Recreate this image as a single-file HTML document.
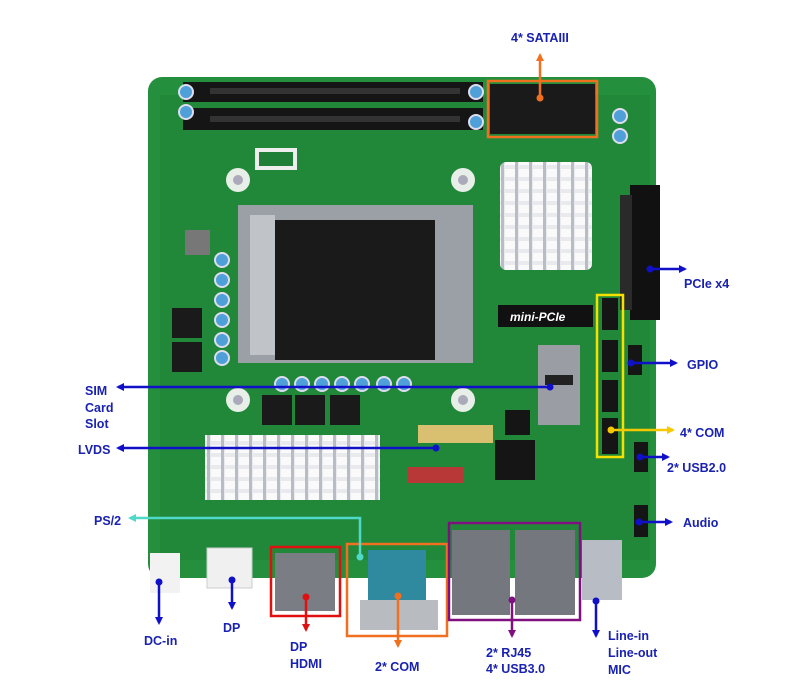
<!DOCTYPE html>
<html><head><meta charset="utf-8"><style>
html,body{margin:0;padding:0;background:#fff;}
svg{display:block}
text{font-family:"Liberation Sans",sans-serif;font-weight:bold;font-size:12.5px;fill:#1a22b0}
</style></head><body>
<svg width="800" height="680" viewBox="0 0 800 680" xmlns="http://www.w3.org/2000/svg">
<defs>
<marker id="ab" markerWidth="8" markerHeight="8" refX="6" refY="4" orient="auto" markerUnits="userSpaceOnUse"><path d="M0,0 L8,4 L0,8 Z" fill="#1010c8"/></marker>
<marker id="ao" markerWidth="8" markerHeight="8" refX="6" refY="4" orient="auto" markerUnits="userSpaceOnUse"><path d="M0,0 L8,4 L0,8 Z" fill="#f07020"/></marker>
<marker id="ay" markerWidth="8" markerHeight="8" refX="6" refY="4" orient="auto" markerUnits="userSpaceOnUse"><path d="M0,0 L8,4 L0,8 Z" fill="#f5c800"/></marker>
<marker id="ac" markerWidth="8" markerHeight="8" refX="6" refY="4" orient="auto" markerUnits="userSpaceOnUse"><path d="M0,0 L8,4 L0,8 Z" fill="#50d8c8"/></marker>
<marker id="ar" markerWidth="8" markerHeight="8" refX="6" refY="4" orient="auto" markerUnits="userSpaceOnUse"><path d="M0,0 L8,4 L0,8 Z" fill="#e01010"/></marker>
<marker id="ap" markerWidth="8" markerHeight="8" refX="6" refY="4" orient="auto" markerUnits="userSpaceOnUse"><path d="M0,0 L8,4 L0,8 Z" fill="#801080"/></marker>
<pattern id="fin" width="14" height="12" patternUnits="userSpaceOnUse"><rect width="14" height="12" fill="#e8eaee"/><rect x="1" y="1" width="10" height="8" fill="#fafafa"/><rect x="11" width="3" height="12" fill="#b8bcc4"/></pattern>
</defs>
<!-- board -->
<rect x="148" y="77" width="508" height="501" rx="14" fill="#24903e"/>
<rect x="160" y="95" width="490" height="465" fill="#1f7f36" opacity="0.45"/>
<!-- RAM -->
<rect x="183" y="82" width="300" height="20" fill="#151515"/>
<rect x="183" y="108" width="300" height="22" fill="#151515"/>
<rect x="210" y="88" width="250" height="6" fill="#333"/>
<rect x="210" y="116" width="250" height="6" fill="#333"/>
<!-- SATA -->
<rect x="490" y="84" width="105" height="50" fill="#1a1a1a"/>
<!-- CPU socket -->
<rect x="238" y="205" width="235" height="158" fill="#9aa0a6"/>
<rect x="275" y="220" width="160" height="140" fill="#1a1a1a"/>
<rect x="250" y="215" width="25" height="140" fill="#c0c4c8"/>
<circle cx="238" cy="180" r="12" fill="#e8efe8"/><circle cx="238" cy="180" r="5" fill="#aab"/>
<circle cx="463" cy="180" r="12" fill="#e8efe8"/><circle cx="463" cy="180" r="5" fill="#aab"/>
<circle cx="238" cy="400" r="12" fill="#e8efe8"/><circle cx="238" cy="400" r="5" fill="#aab"/>
<circle cx="463" cy="400" r="12" fill="#e8efe8"/><circle cx="463" cy="400" r="5" fill="#aab"/>
<rect x="255" y="148" width="42" height="22" fill="#eee"/><rect x="259" y="152" width="34" height="14" fill="#1f7f36"/>
<!-- chipset heatsink -->
<rect x="500" y="162" width="92" height="108" rx="6" fill="url(#fin)"/>
<!-- PCIe -->
<rect x="630" y="185" width="30" height="135" fill="#111"/>
<rect x="620" y="195" width="12" height="115" fill="#2a2a2a"/>
<!-- mini-pcie -->
<rect x="498" y="305" width="95" height="22" fill="#111"/>
<text x="510" y="321" style="fill:#fff;font-size:12px;font-style:italic">mini-PCIe</text>
<!-- SIM -->
<rect x="538" y="345" width="42" height="80" fill="#9a9ea4"/>
<rect x="545" y="375" width="28" height="10" fill="#222"/>
<!-- caps -->
<g fill="#4fa0d8" stroke="#dde" stroke-width="2">
<circle cx="222" cy="260" r="7"/><circle cx="222" cy="280" r="7"/><circle cx="222" cy="300" r="7"/><circle cx="222" cy="320" r="7"/><circle cx="222" cy="340" r="7"/><circle cx="222" cy="358" r="7"/>
<circle cx="282" cy="384" r="7"/><circle cx="302" cy="384" r="7"/><circle cx="322" cy="384" r="7"/><circle cx="342" cy="384" r="7"/><circle cx="362" cy="384" r="7"/><circle cx="384" cy="384" r="7"/><circle cx="404" cy="384" r="7"/>
<circle cx="186" cy="92" r="7"/><circle cx="186" cy="112" r="7"/><circle cx="476" cy="92" r="7"/><circle cx="476" cy="122" r="7"/><circle cx="620" cy="116" r="7"/><circle cx="620" cy="136" r="7"/>
</g>
<!-- chokes -->
<g fill="#1a1a1a"><rect x="172" y="308" width="30" height="30"/><rect x="172" y="342" width="30" height="30"/><rect x="262" y="395" width="30" height="30"/><rect x="295" y="395" width="30" height="30"/><rect x="330" y="395" width="30" height="30"/><rect x="185" y="230" width="25" height="25" fill="#777"/></g>
<!-- LVDS heatsink -->
<rect x="205" y="435" width="175" height="65" fill="url(#fin)"/>
<rect x="418" y="425" width="75" height="18" fill="#d8c070"/>
<rect x="408" y="467" width="55" height="16" fill="#b83838"/>
<!-- headers -->
<g fill="#151515"><rect x="602" y="298" width="16" height="32"/><rect x="602" y="340" width="16" height="32"/><rect x="602" y="380" width="16" height="32"/><rect x="602" y="418" width="16" height="36"/><rect x="628" y="345" width="14" height="30"/><rect x="634" y="442" width="14" height="30"/><rect x="634" y="505" width="14" height="32"/><rect x="495" y="440" width="40" height="40"/><rect x="505" y="410" width="25" height="25"/></g>
<!-- IO -->
<rect x="150" y="553" width="30" height="40" fill="#f2f2f2"/>
<rect x="207" y="548" width="45" height="40" fill="#f0f0f0" stroke="#ccc"/>
<rect x="275" y="553" width="60" height="58" fill="#7a7e84"/>
<rect x="368" y="550" width="58" height="55" fill="#2f8aa0"/>
<rect x="360" y="600" width="78" height="30" fill="#b8bcc0"/>
<rect x="452" y="530" width="58" height="85" fill="#74787e"/>
<rect x="515" y="530" width="60" height="85" fill="#74787e"/>
<rect x="582" y="540" width="40" height="60" fill="#b8bcc4"/>
<!-- boxes -->
<rect x="488" y="81" width="109" height="56" fill="none" stroke="#f07020" stroke-width="2.5"/>
<rect x="597" y="295" width="26" height="162" fill="none" stroke="#f5e000" stroke-width="2.5"/>
<rect x="271" y="547" width="69" height="69" fill="none" stroke="#e01010" stroke-width="2.5"/>
<rect x="347" y="544" width="100" height="92" fill="none" stroke="#f07020" stroke-width="2.5"/>
<rect x="449" y="523" width="131" height="97" fill="none" stroke="#801080" stroke-width="2.5"/>
<!-- connectors -->
<g stroke-width="2.5" fill="none">
<line x1="540" y1="98" x2="540" y2="55" stroke="#f07020" marker-end="url(#ao)"/>
<line x1="650" y1="269" x2="685" y2="269" stroke="#1010c8" marker-end="url(#ab)"/>
<line x1="631" y1="363" x2="676" y2="363" stroke="#1010c8" marker-end="url(#ab)"/>
<line x1="611" y1="430" x2="673" y2="430" stroke="#f5c800" marker-end="url(#ay)"/>
<line x1="640" y1="457" x2="668" y2="457" stroke="#1010c8" marker-end="url(#ab)"/>
<line x1="639" y1="522" x2="671" y2="522" stroke="#1010c8" marker-end="url(#ab)"/>
<line x1="550" y1="387" x2="118" y2="387" stroke="#1010c8" marker-end="url(#ab)"/>
<line x1="436" y1="448" x2="118" y2="448" stroke="#1010c8" marker-end="url(#ab)"/>
<polyline points="360,557 360,518 130,518" stroke="#50d8c8" marker-end="url(#ac)"/>
<line x1="159" y1="582" x2="159" y2="623" stroke="#1010c8" marker-end="url(#ab)"/>
<line x1="232" y1="580" x2="232" y2="608" stroke="#1010c8" marker-end="url(#ab)"/>
<line x1="306" y1="597" x2="306" y2="630" stroke="#e01010" marker-end="url(#ar)"/>
<line x1="398" y1="596" x2="398" y2="646" stroke="#f07020" marker-end="url(#ao)"/>
<line x1="512" y1="600" x2="512" y2="636" stroke="#801080" marker-end="url(#ap)"/>
<line x1="596" y1="601" x2="596" y2="636" stroke="#1010c8" marker-end="url(#ab)"/>
</g>
<g>
<circle cx="540" cy="98" r="3.5" fill="#f07020"/><circle cx="650" cy="269" r="3.5" fill="#1010c8"/><circle cx="631" cy="363" r="3.5" fill="#1010c8"/><circle cx="611" cy="430" r="3.5" fill="#f5c800"/><circle cx="640" cy="457" r="3.5" fill="#1010c8"/><circle cx="639" cy="522" r="3.5" fill="#1010c8"/><circle cx="550" cy="387" r="3.5" fill="#1010c8"/><circle cx="436" cy="448" r="3.5" fill="#1010c8"/><circle cx="360" cy="557" r="3.5" fill="#50d8c8"/><circle cx="159" cy="582" r="3.5" fill="#1010c8"/><circle cx="232" cy="580" r="3.5" fill="#1010c8"/><circle cx="306" cy="597" r="3.5" fill="#e01010"/><circle cx="398" cy="596" r="3.5" fill="#f07020"/><circle cx="512" cy="600" r="3.5" fill="#801080"/><circle cx="596" cy="601" r="3.5" fill="#1010c8"/>
</g>
<!-- labels -->
<text x="511" y="42">4* SATAIII</text>
<text x="684" y="288">PCIe x4</text>
<text x="687" y="369">GPIO</text>
<text x="680" y="437">4* COM</text>
<text x="667" y="472">2* USB2.0</text>
<text x="683" y="527">Audio</text>
<text x="85" y="395">SIM</text><text x="85" y="412">Card</text><text x="85" y="428">Slot</text>
<text x="78" y="454">LVDS</text>
<text x="94" y="525">PS/2</text>
<text x="144" y="645">DC-in</text>
<text x="223" y="632">DP</text>
<text x="290" y="651">DP</text><text x="290" y="668">HDMI</text>
<text x="375" y="671">2* COM</text>
<text x="486" y="657">2* RJ45</text><text x="486" y="673">4* USB3.0</text>
<text x="608" y="640">Line-in</text><text x="608" y="657">Line-out</text><text x="608" y="674">MIC</text>
</svg>
</body></html>
